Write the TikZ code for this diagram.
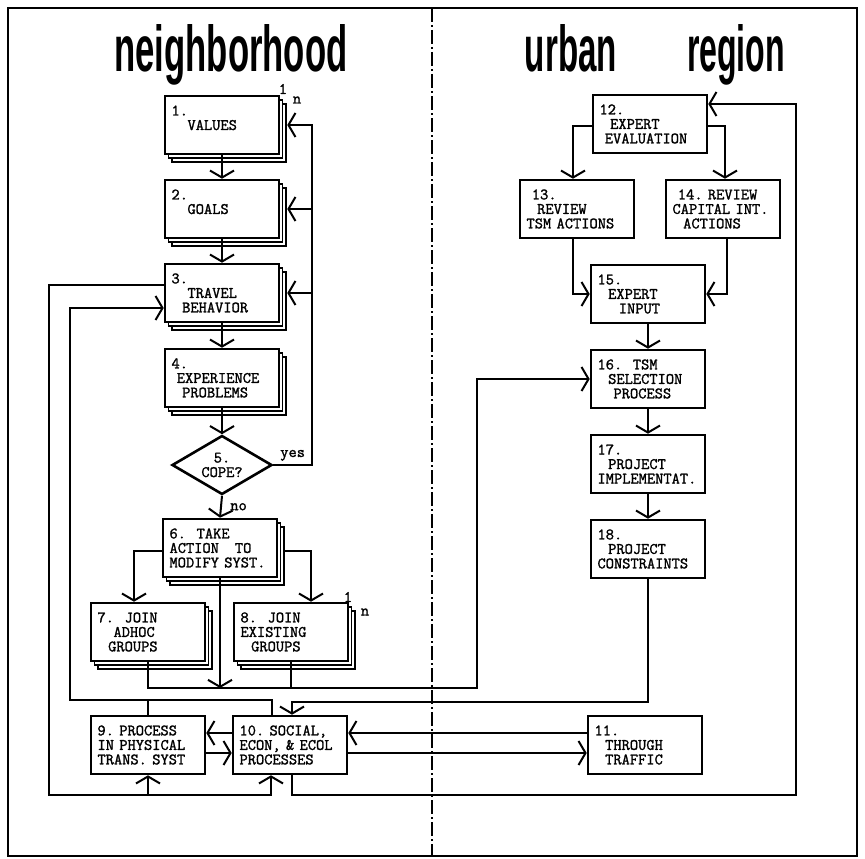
\documentclass[tikz,border=0pt]{standalone}
\usepackage{fontspec}
\usepackage{graphicx}
\newfontfamily\titel{Liberation Sans}
\newfontfamily\maschine{Latin Modern Mono}[FakeBold=1.5]
\newcommand\schreib{\maschine\fontsize{16}{14.5}\selectfont}
\newcommand\grosz[2]{\raisebox{0pt}[\height][0pt]{\resizebox{#1}{47pt}{\titel\bfseries #2}}}
\usetikzlibrary{arrows.meta,shapes.geometric,shadows}

\begin{document}
\begin{tikzpicture}[x=1pt,y=-1pt,line width=2pt,
	pfeil/.style={-{Straight Barb[length=7pt,width=24pt]}},
	kasten/.style={draw,line width=2.6pt,fill=white,minimum width=114pt,
		minimum height=58pt,text width=101pt,inner xsep=6.5pt,inner ysep=0pt,
		align=left,font=\schreib},
	stapel/.style={kasten,
		copy shadow={shadow xshift=7pt,shadow yshift=-8pt,line width=1.4pt},
		copy shadow={shadow xshift=3.5pt,shadow yshift=-4pt,line width=1.4pt}},
	marke/.style={font=\schreib,inner sep=0pt}]
\useasboundingbox (0,0) rectangle (865,859);
\draw (8,8) rectangle (857,856);
\draw[line width=1.5pt,dash pattern=on 14pt off 3pt on 2pt off 3pt]
	(432,8) -- (432,856);
% titles
\node[anchor=base,inner sep=0pt] (nb) at (231,72) {\grosz{233pt}{neighborhood}};
\node[anchor=base,inner sep=0pt] (ur) at (571,72) {\grosz{92pt}{urban}};
\node[anchor=base,inner sep=0pt] (rg) at (736,72) {\grosz{98pt}{region}};
% neighborhood
\node[stapel] (b1) at (222,125) {1.\\~~~VALUES\\\mbox{}};
\node[stapel] (b2) at (222,209) {2.\\~~~GOALS\\\mbox{}};
\node[stapel] (b3) at (222,293) {3.\\~~~TRAVEL\\~~BEHAVIOR};
\node[stapel] (b4) at (222,378) {4.\\~EXPERIENCE\\~~PROBLEMS};
\node[draw,diamond,aspect=1.7,minimum width=100pt,minimum height=59pt,
	inner sep=0pt,line width=2.6pt,font=\schreib,align=center] (d5) at (222,465) {5.\\COPE?};
\node[stapel] (b6) at (220,548) {6.~~TAKE\\ACTION~~~TO\\MODIFY~SYST.};
\node[stapel] (b7) at (148,632) {7.~~JOIN\\~~~ADHOC\\~~GROUPS};
\node[stapel] (b8) at (291,632) {8.~~JOIN\\EXISTING\\~~GROUPS};
\node[kasten] (b9) at (148,745) {9.~PROCESS\\IN~PHYSICAL\\TRANS.~SYST};
\node[kasten] (b10) at (290,745) {10.~SOCIAL,\\ECON,~\&~ECOL\\PROCESSES};
\node[marke] (m1) at (283,89) {1};
\node[marke] (n1) at (297,100) {n};
\node[marke] (m8) at (348,597) {1};
\node[marke] (n8) at (365,612) {n};
% urban region
\node[kasten] (b11) at (645,745) {11.\\~~THROUGH\\~~TRAFFIC};
\node[kasten] (b12) at (650,124) {12.\\~~EXPERT\\~EVALUATION};
\node[kasten] (b13) at (577,209) {~13.\\~~REVIEW\\TSM~ACTIONS};
\node[kasten] (b14) at (723,209) {~14.~REVIEW\\CAPITAL~INT.\\~~ACTIONS};
\node[kasten] (b15) at (648,294) {15.\\~~EXPERT\\~~~~INPUT};
\node[kasten] (b16) at (648,379) {16.~~TSM\\~~SELECTION\\~~~PROCESS};
\node[kasten] (b17) at (648,464) {17.\\~~PROJECT\\IMPLEMENTAT.};
\node[kasten] (b18) at (648,549) {18.\\~~PROJECT\\CONSTRAINTS};
% left column
\draw[pfeil] (b1.south) -- (b2.north);
\draw[pfeil] (b2.south) -- (b3.north);
\draw[pfeil] (b3.south) -- (b4.north);
\draw[pfeil] (b4.south) -- (d5.north);
\draw[pfeil] (d5.south) -- node[right,xshift=5pt,font=\schreib] (nein) {no} (b6.north);
\coordinate (rk) at (312,465);
\draw[pfeil] (d5.east) -- node[above,font=\schreib] (ja) {yes} (rk) |- ([xshift=7pt]b1.east);
\draw[pfeil] (rk |- b2.east) -- ([xshift=7pt]b2.east);
\draw[pfeil] (rk |- b3.east) -- ([xshift=7pt]b3.east);
\draw[pfeil] ([yshift=-3pt]b6.west) -| ([xshift=-14pt]b7.north);
\draw[pfeil] ([xshift=7pt,yshift=-3pt]b6.east) -| ([xshift=20pt]b8.north);
\coordinate (sam) at (477,688);
\draw[pfeil] (b6.south) -- (b6.south |- sam);
\draw[pfeil] (b7.south) |- (sam) |- (b16.west);
\draw (b8.south) -- (b8.south |- sam);
\coordinate (k3) at (70,700);
\draw[pfeil] ([xshift=-18pt]b10.north) |- (k3) |- ([yshift=-15pt]b3.west);
\draw (b9.north) -- (b9.north |- k3);
\coordinate (k1) at (49,795);
\draw[pfeil] ([yshift=8pt]b3.west) -| (k1) -| ([xshift=-19pt]b10.south);
\draw[pfeil] (b9.south |- k1) -- (b9.south);
\draw[pfeil] ([yshift=12pt]b10.west) -- ([yshift=12pt]b9.east);
\draw[pfeil] ([yshift=-8pt]b9.east) -- ([yshift=-8pt]b10.west);
\draw[pfeil] ([yshift=12pt]b11.west) -- ([yshift=12pt]b10.east);
\draw[pfeil] ([yshift=-8pt]b10.east) -- ([yshift=-8pt]b11.west);
% right column
\coordinate (k18) at (292,702);
\draw[pfeil] (b18.south) |- (k18) -- ([xshift=2pt]b10.north);
\coordinate (k10) at (796,795);
\draw[pfeil] ([xshift=2pt]b10.south) |- (k10) |- ([yshift=20pt]b12.east);
\draw[pfeil] ([yshift=-2pt]b12.west) -| ([xshift=-4pt]b13.north);
\draw[pfeil] ([yshift=-2pt]b12.east) -| ([xshift=2pt]b14.north);
\draw[pfeil] ([xshift=-4pt]b13.south) |- (b15.west);
\draw[pfeil] ([xshift=4pt]b14.south) |- (b15.east);
\draw[pfeil] (b15.south) -- (b16.north);
\draw[pfeil] (b16.south) -- (b17.north);
\draw[pfeil] (b17.south) -- (b18.north);
\end{tikzpicture}
\end{document}
